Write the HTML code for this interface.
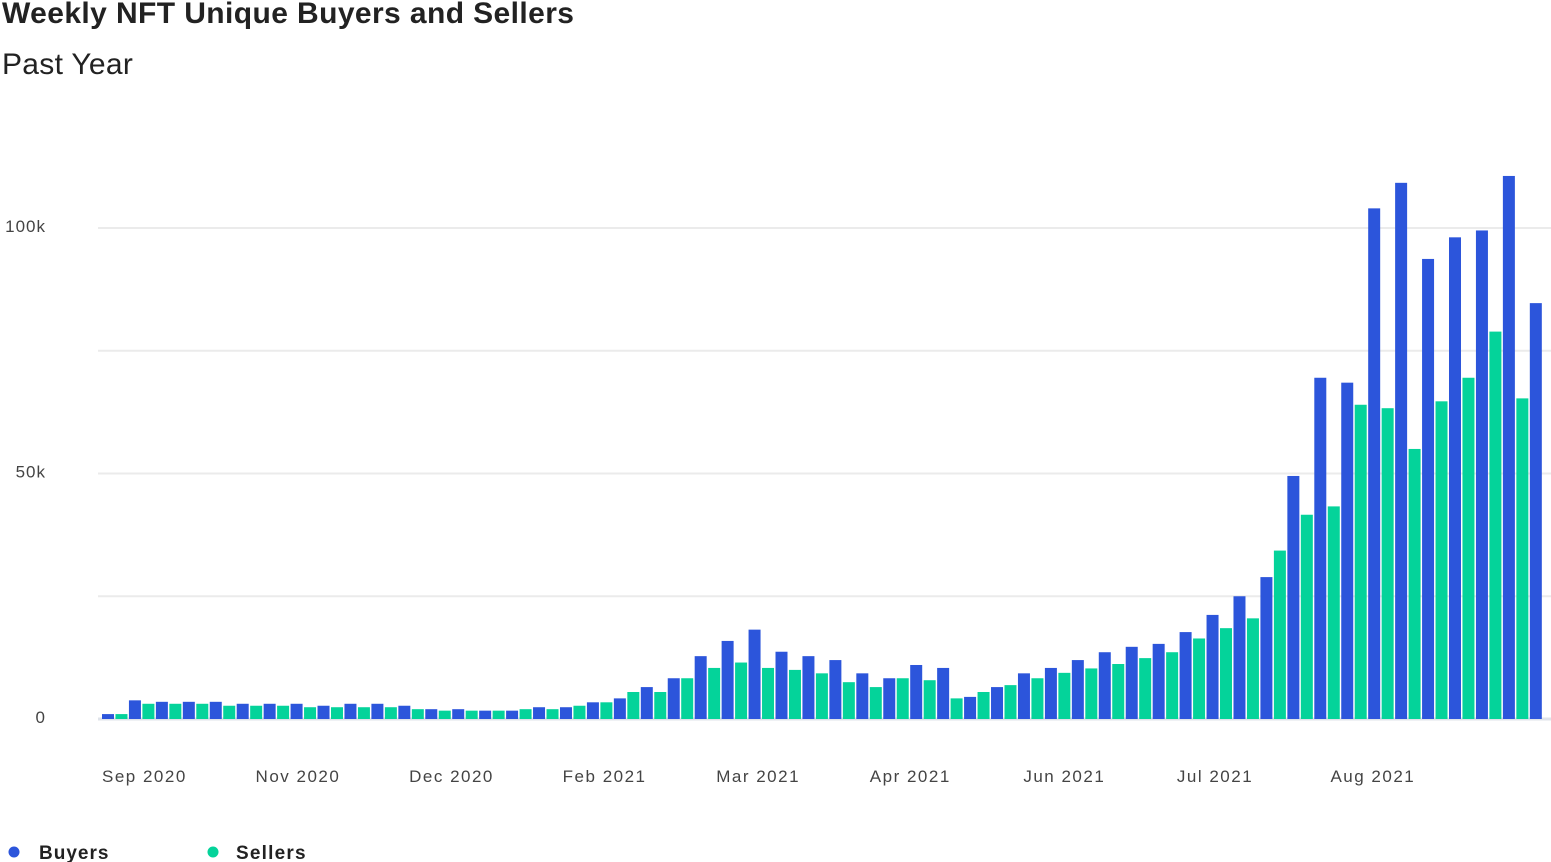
<!DOCTYPE html>
<html><head><meta charset="utf-8">
<style>
html,body{margin:0;padding:0;background:#fff;}
body{width:1551px;height:862px;overflow:hidden;position:relative;font-family:"Liberation Sans",sans-serif;color:#222;}
#title{position:absolute;left:2px;top:-3px;font-size:30px;font-weight:bold;letter-spacing:0.4px;}
#subtitle{position:absolute;left:2px;top:48px;font-size:30px;letter-spacing:0.3px;}
svg{position:absolute;left:0;top:0;}
</style></head>
<body>
<div id="title">Weekly NFT Unique Buyers and Sellers</div>
<div id="subtitle">Past Year</div>
<svg id="chart" width="1551" height="862"></svg>
<script>
const buyers=[1.0,3.8,3.5,3.5,3.5,3.1,3.1,3.1,2.7,3.1,3.1,2.7,2.0,2.0,1.7,1.7,2.4,2.4,3.4,4.2,6.5,8.3,12.8,15.9,18.2,13.7,12.8,12.0,9.3,8.3,11.0,10.4,4.5,6.5,9.3,10.4,12.0,13.6,14.7,15.3,17.7,21.2,25.0,28.9,49.5,69.5,68.5,104.0,109.2,93.7,98.1,99.5,110.6,84.7];
const sellers=[1.0,3.1,3.1,3.1,2.7,2.7,2.7,2.4,2.4,2.4,2.4,2.0,1.7,1.7,1.7,2.0,2.0,2.7,3.4,5.5,5.5,8.3,10.4,11.5,10.4,10.0,9.3,7.5,6.5,8.3,7.9,4.2,5.5,6.9,8.3,9.4,10.3,11.2,12.4,13.6,16.4,18.5,20.5,34.3,41.6,43.3,64.0,63.3,55.0,64.7,69.5,78.9,65.3];
const yTicks=[0,25,50,75,100];
const yTickLabels=["0","","50k","","100k"];
const monthLabels=["Sep 2020","Nov 2020","Dec 2020","Feb 2021","Mar 2021","Apr 2021","Jun 2021","Jul 2021","Aug 2021"];
const monthWeeks=[0,5.7,11.4,17.1,22.8,28.5,34.2,39.9,45.6];

const NS="http://www.w3.org/2000/svg";
const svg=document.getElementById('chart');
const x0=102, weekStep=26.94, barW=12, y0=719, pxPerK=4.91;
const xScale=w=>x0+w*weekStep;
const yScale=v=>y0-v*pxPerK;
function mk(tag,attrs){const e=document.createElementNS(NS,tag);for(const k in attrs)e.setAttribute(k,attrs[k]);svg.appendChild(e);return e;}

yTicks.forEach((t,i)=>{
  const g=mk('line',{x1:98,x2:1551,y1:yScale(t),y2:yScale(t),stroke:t===0?'#dfe3ea':'#ebebeb','stroke-width':t===0?3:2});
  
  
  if(yTickLabels[i]){
    const tx=mk('text',{x:46,y:yScale(t)+4,'text-anchor':'end','font-size':17,'letter-spacing':1,fill:'#444','font-family':'Liberation Sans, sans-serif'});
    tx.textContent=yTickLabels[i];
    
    
  }
});
buyers.forEach((v,i)=>{
  const r=mk('rect',{x:xScale(i),y:yScale(v),width:barW,height:y0-yScale(v),fill:'#2c55db'});
  
  
});
sellers.forEach((v,i)=>{
  const r=mk('rect',{x:xScale(i)+weekStep/2,y:yScale(v),width:barW,height:y0-yScale(v),fill:'#04d39a'});
  
  
});
monthLabels.forEach((m,i)=>{
  const tx=mk('text',{x:xScale(monthWeeks[i]),y:782,'font-size':17,'letter-spacing':1.5,fill:'#444','font-family':'Liberation Sans, sans-serif'});
  tx.textContent=m;
  
  
});
const c1=mk('circle',{cx:14,cy:852,r:5.5,fill:'#2c55db'});


const t1=mk('text',{x:39,y:859,'font-size':19,'font-weight':'bold','letter-spacing':1,fill:'#222','font-family':'Liberation Sans, sans-serif'});
t1.textContent='Buyers';


const c2=mk('circle',{cx:213,cy:852,r:5.5,fill:'#04d39a'});


const t2=mk('text',{x:236,y:859,'font-size':19,'font-weight':'bold','letter-spacing':1.2,fill:'#222','font-family':'Liberation Sans, sans-serif'});
t2.textContent='Sellers';


</script>
</body></html>
